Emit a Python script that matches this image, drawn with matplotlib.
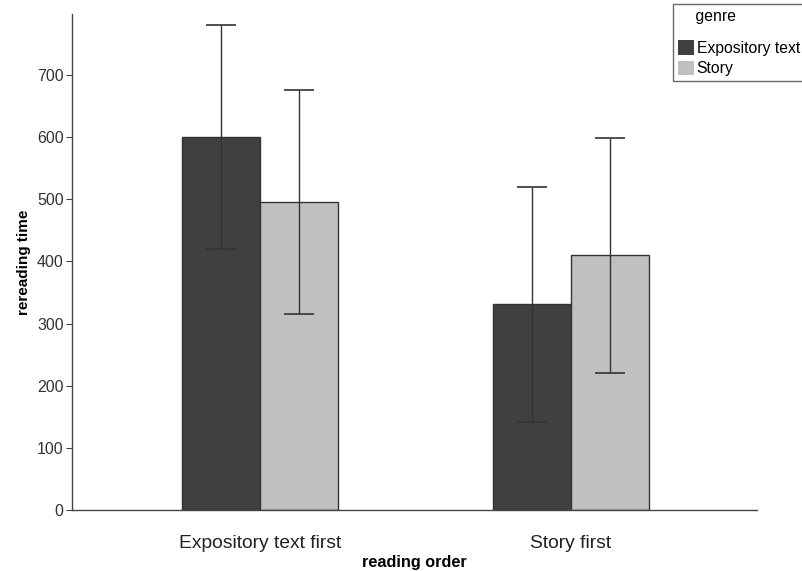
import matplotlib
matplotlib.use("Agg")
import matplotlib.pyplot as plt
import numpy as np
from matplotlib.patches import Patch

plt.rcParams['font.family'] = ['Liberation Sans', 'DejaVu Sans']

categories = ["Expository text first", "Story first"]
genres = ["Expository text", "Story"]
means = {"Expository text": [600, 331], "Story": [495, 410]}
errors = {"Expository text": [180, 189], "Story": [180, 189]}
colors = {"Expository text": "#404040", "Story": "#c0c0c0"}
yticks = [0, 100, 200, 300, 400, 500, 600, 700]

fig = plt.figure(figsize=(8.02, 5.71), dpi=100)
ax = fig.add_axes([72/802, 1-510/571, (757-72)/802, (510-14)/571])

x = np.arange(len(categories))
w = 0.25
for i, g in enumerate(genres):
    pos = x + (i - 0.5) * w
    ax.bar(pos, means[g], width=w, color=colors[g], edgecolor="#333333", linewidth=1.0, zorder=2)
    ax.errorbar(pos, means[g], yerr=errors[g], fmt="none", ecolor="#333333",
                elinewidth=1.0, capsize=11, capthick=1.2, zorder=3)

ax.set_xlim(-0.605, 1.598)
ax.set_ylim(0, 798)
ax.set_xticks(x)
ax.set_xticklabels(categories, fontsize=13.9, color="#222222")
ax.tick_params(axis="x", length=0, pad=18)
ax.set_yticks(yticks)
ax.tick_params(axis="y", labelsize=11.5, colors="#444444", length=4, width=0.8,
               labelcolor="#333333", pad=2)
for s in ["top", "right"]:
    ax.spines[s].set_visible(False)
for s in ["left", "bottom"]:
    ax.spines[s].set_color("#444444")
    ax.spines[s].set_linewidth(1.0)

ax.set_xlabel("reading order", fontsize=11.7, fontweight="bold", labelpad=2)
ax.set_ylabel("rereading time", fontsize=11, fontweight="bold", labelpad=4)

handles = [Patch(facecolor=colors[g], edgecolor="none") for g in genres]
leg = fig.legend(handles, genres, title="genre", loc="upper left",
                 bbox_to_anchor=(673/802, 1-4/571), frameon=True, fancybox=False,
                 fontsize=11.3, title_fontsize=11.3, handlelength=1.05, handleheight=1.05,
                 handletextpad=0.15, borderpad=0.3, labelspacing=0.3, borderaxespad=0,
                 alignment="left")
leg.get_title().set_text("    genre")
leg._legend_box.sep = 12
leg.get_frame().set_edgecolor("#444444")
leg.get_frame().set_linewidth(1.0)

fig.savefig("out.png", dpi=100)
